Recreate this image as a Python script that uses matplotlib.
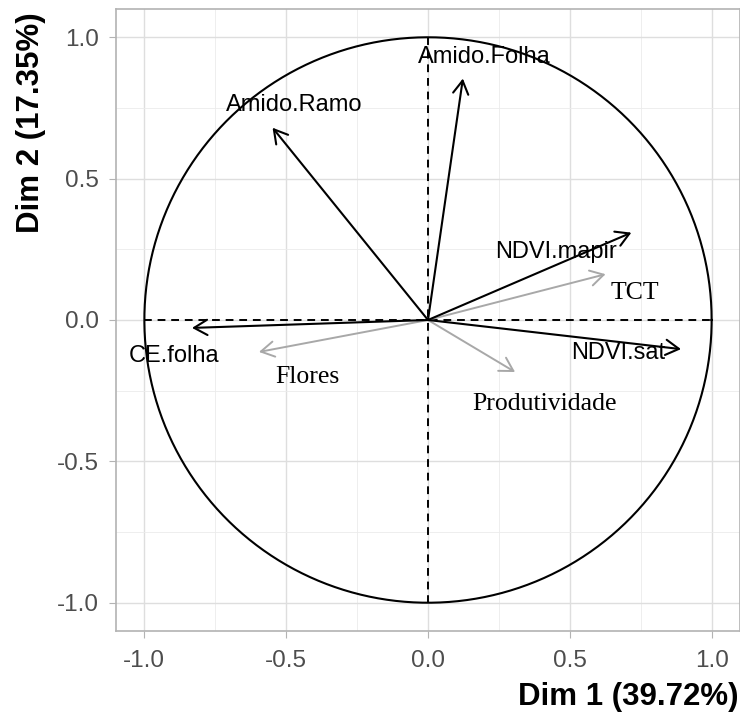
import numpy as np
import matplotlib.pyplot as plt

# PCA variable loadings (Dim 1, Dim 2)
active_vars = ['Amido.Folha', 'Amido.Ramo', 'NDVI.mapir', 'NDVI.sat', 'CE.folha']
active_x = [0.123, -0.548, 0.717, 0.892, -0.832]
active_y = [0.854, 0.680, 0.309, -0.103, -0.028]
active_lx = [0.20, -0.47, 0.45, 0.67, -0.895]
active_ly = [0.93, 0.762, 0.240, -0.117, -0.127]

supp_vars = ['TCT', 'Produtividade', 'Flores']
supp_x = [0.626, 0.307, -0.596]
supp_y = [0.162, -0.184, -0.113]
supp_lx = [0.73, 0.41, -0.425]
supp_ly = [0.094, -0.296, -0.201]

ticks = [-1.0, -0.5, 0.0, 0.5, 1.0]
xlab = 'Dim 1 (39.72%)'
ylab = 'Dim 2 (17.35%)'

plt.rcParams['font.family'] = ['Liberation Sans', 'DejaVu Sans']

fig = plt.figure(figsize=(7.4, 7.13), dpi=100)
ax = fig.add_axes([116 / 740, 82 / 713, 624 / 740, 622 / 713])
ax.set_xlim(-1.1, 1.1)
ax.set_ylim(-1.1, 1.1)

ax.set_xticks(ticks)
ax.set_yticks(ticks)
ax.set_xticklabels(['%.1f' % t for t in ticks])
ax.set_yticklabels(['%.1f' % t for t in ticks])
ax.set_xticks([-0.75, -0.25, 0.25, 0.75], minor=True)
ax.set_yticks([-0.75, -0.25, 0.25, 0.75], minor=True)
ax.grid(True, which='major', color='#dedede', lw=1.0)
ax.grid(True, which='minor', color='#ebebeb', lw=0.6)
ax.set_axisbelow(True)
ax.tick_params(which='major', length=5, color='#b3b3b3', labelsize=17.5, labelcolor='#4d4d4d')
ax.tick_params(axis='x', pad=9)
ax.tick_params(axis='y', pad=7)
ax.tick_params(which='minor', length=0)
for s in ax.spines.values():
    s.set_color('#b3b3b3')
    s.set_linewidth(1.2)

# unit circle and axes
t = np.linspace(0, 2 * np.pi, 400)
ax.plot(np.cos(t), np.sin(t), color='black', lw=1.5)
ax.plot([-1, 1], [0, 0], color='black', lw=1.4, ls=(0, (4, 3)))
ax.plot([0, 0], [-1, 1], color='black', lw=1.4, ls=(0, (4, 3)))

astyle = '->,head_length=0.95,head_width=0.55'
for name, x, y, lx, ly in zip(supp_vars, supp_x, supp_y, supp_lx, supp_ly):
    ax.annotate('', xy=(x, y), xytext=(0, 0),
                arrowprops=dict(arrowstyle=astyle, color='#a8a8a8', lw=1.4,
                                shrinkA=0, shrinkB=0, mutation_scale=10))
    ax.text(lx, ly, name, ha='center', va='center', fontsize=18.5,
            family='Liberation Serif', color='black')

for name, x, y, lx, ly in zip(active_vars, active_x, active_y, active_lx, active_ly):
    ax.annotate('', xy=(x, y), xytext=(0, 0),
                arrowprops=dict(arrowstyle=astyle, color='black', lw=1.5,
                                shrinkA=0, shrinkB=0, mutation_scale=10))
    ax.text(lx, ly, name, ha='center', va='center', fontsize=17, color='black')

fig.text(738 / 740, 1 - 697 / 713, xlab, ha='right', va='center',
         fontsize=22.5, fontweight='bold')
fig.text(31 / 740, 1 - 123 / 713, ylab, ha='center', va='center', rotation=90,
         fontsize=22.5, fontweight='bold')

fig.savefig('out.png', dpi=100)
